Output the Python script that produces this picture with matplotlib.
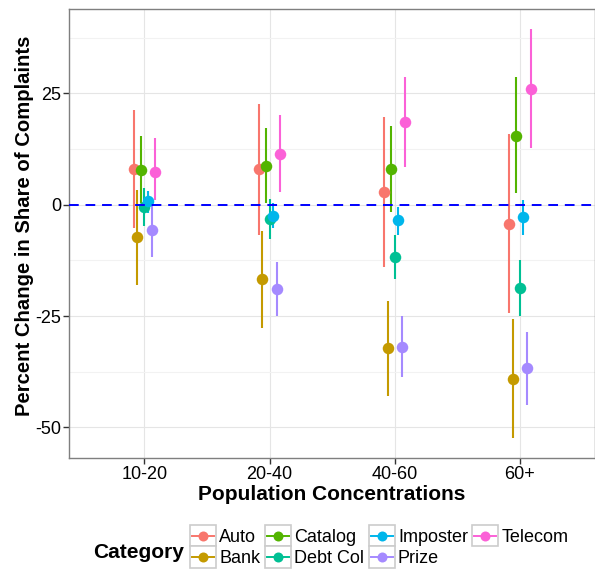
import matplotlib
matplotlib.use("Agg")
import matplotlib.pyplot as plt
import numpy as np
from matplotlib.legend_handler import HandlerBase
from matplotlib.patches import Rectangle
from matplotlib.lines import Line2D

plt.rcParams['font.family'] = ['Liberation Sans', 'DejaVu Sans']

groups = ["10-20", "20-40", "40-60", "60+"]
categories = ["Auto", "Bank", "Catalog", "Debt Col", "Imposter", "Prize", "Telecom"]
colors = ["#F8766D", "#C49A00", "#53B400", "#00C094", "#00B6EB", "#A58AFF", "#FB61D7"]

auto = [8.0, 8.0, 2.9, -4.3]
auto_lo = [-5.2, -6.7, -13.9, -24.4]
auto_hi = [21.3, 22.6, 19.8, 15.8]
bank = [-7.3, -16.8, -32.3, -39.1]
bank_lo = [-18.0, -27.8, -43.0, -52.5]
bank_hi = [3.3, -5.9, -21.6, -25.7]
catalog = [7.8, 8.8, 8.0, 15.5]
catalog_lo = [0.3, 0.3, -1.6, 2.6]
catalog_hi = [15.4, 17.3, 17.7, 28.6]
debt = [-0.6, -3.2, -11.7, -18.6]
debt_lo = [-4.8, -7.8, -16.8, -24.9]
debt_hi = [3.7, 1.3, -6.7, -12.5]
imposter = [0.8, -2.5, -3.5, -2.8]
imposter_lo = [-1.9, -5.2, -6.7, -6.7]
imposter_hi = [3.1, 0.3, -0.6, 1.1]
prize = [-5.7, -19.0, -32.0, -36.7]
prize_lo = [-11.7, -25.1, -38.8, -44.9]
prize_hi = [0.2, -12.8, -25.1, -28.5]
telecom = [7.3, 11.5, 18.5, 26.0]
telecom_lo = [1.0, 2.9, 8.4, 12.7]
telecom_hi = [14.9, 20.1, 28.6, 39.5]

values = [auto, bank, catalog, debt, imposter, prize, telecom]
lows = [auto_lo, bank_lo, catalog_lo, debt_lo, imposter_lo, prize_lo, telecom_lo]
highs = [auto_hi, bank_hi, catalog_hi, debt_hi, imposter_hi, prize_hi, telecom_hi]

y_ticks = [-50, -25, 0, 25]
y_ticklabels = ["-50", "-25", "0", "25"]

W, H = 595, 577
fig = plt.figure(figsize=(W / 100, H / 100), dpi=100)
ax = fig.add_axes([69.3 / W, 1 - 458 / H, (595 - 69.3) / W, (458 - 9.3) / H])

x = np.arange(len(groups))
n = len(categories)
dodge = 0.2
for i, (cat, col) in enumerate(zip(categories, colors)):
    xs = x + (i - (n - 1) / 2) * dodge / n
    ax.vlines(xs, lows[i], highs[i], color=col, lw=1.5, zorder=3)
    ax.plot(xs, values[i], 'o', color=col, ms=8.3, mec='none', zorder=4, label=cat)

ax.axhline(0, color='#0000FF', lw=1.4, dashes=(5, 3.5), zorder=5)

ax.set_xlim(-0.6, 3.6)
ax.set_ylim(-56.9, 43.9)
ax.set_xticks(x)
ax.set_xticklabels(groups)
ax.set_yticks(y_ticks)
ax.set_yticklabels(y_ticklabels)
ax.set_yticks([-37.5, -12.5, 12.5, 37.5], minor=True)
ax.tick_params(axis='both', which='major', labelsize=13, length=4.5, width=1,
               color='#333333', labelcolor='black', pad=1.2)
ax.tick_params(axis='y', which='minor', length=0)
ax.grid(True, which='major', color='#E5E5E5', lw=0.8, zorder=0)
ax.grid(True, which='minor', axis='y', color='#F2F2F2', lw=0.8, zorder=0)
ax.set_axisbelow(True)
for s in ax.spines.values():
    s.set_color('#7F7F7F')
    s.set_linewidth(1.0)

ax.set_ylabel("Percent Change in Share of Complaints", fontsize=14.6, fontweight='bold')
ax.yaxis.set_label_coords(-0.067, 0.517)
ax.set_xlabel("Population Concentrations", fontsize=15, fontweight='bold')
ax.xaxis.set_label_coords(0.5, -0.060)


class KeyHandler(HandlerBase):
    def create_artists(self, legend, orig_handle, xdescent, ydescent, width, height, fontsize, trans):
        c = orig_handle.get_color()
        x0, y0 = -xdescent, -ydescent
        rect = Rectangle((x0, y0), width, height, facecolor='white', edgecolor='#CCCCCC',
                         lw=1.2, transform=trans)
        line = Line2D([x0 + width * 0.08, x0 + width * 0.92], [y0 + height / 2] * 2,
                      color=c, lw=1.4, transform=trans)
        mk = Line2D([x0 + width / 2], [y0 + height / 2], marker='o', ms=7.2, color=c,
                    mec='none', ls='none', transform=trans)
        return [rect, line, mk]


handles = [Line2D([], [], color=c) for c in colors]
leg_fs = 13
key = 26 / (leg_fs * 100 / 72)
leg = fig.legend(handles, categories, loc='upper left',
                 bbox_to_anchor=(190 / W, 1 - 525 / H), ncol=4, frameon=False,
                 fontsize=leg_fs, handlelength=key, handleheight=key, handletextpad=0.18,
                 labelspacing=0.0, columnspacing=0.25, borderpad=0, borderaxespad=0,
                 handler_map={Line2D: KeyHandler()})
fig.text(93 / W, 1 - 552.7 / H, "Category", fontsize=15, fontweight='bold',
         ha='left', va='center')

fig.savefig("out.png", dpi=100)
